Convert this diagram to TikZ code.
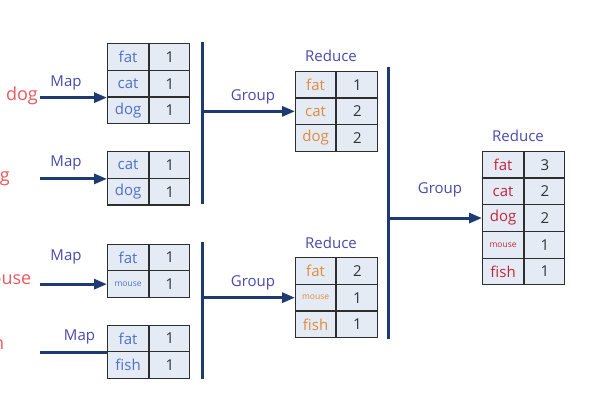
\documentclass[tikz,border=0pt]{standalone}
\usepackage{fontspec}
\setmainfont{Open Sans}
\usetikzlibrary{arrows.meta}
\definecolor{boxfill}{HTML}{E4EBF5}
\definecolor{boxline}{HTML}{2E2E2E}
\definecolor{mapkey}{HTML}{4F70C8}
\definecolor{redkey}{HTML}{E08A3E}
\definecolor{finkey}{HTML}{C0283C}
\definecolor{numtxt}{HTML}{333333}
\definecolor{lbl}{HTML}{4A4AAE}
\definecolor{navy}{HTML}{1F3A72}
\definecolor{intxt}{HTML}{E85A5C}
\tikzset{
  cellbase/.style={draw=boxline, line width=1.2pt, fill=boxfill, anchor=north west,
    inner sep=0pt, minimum height=26.7pt},
  keyc/.style={cellbase, minimum width=41pt, font=\fontsize{15}{15}\selectfont},
  keyr/.style={cellbase, minimum width=40pt, font=\fontsize{15}{15}\selectfont},
  valc/.style={cellbase, minimum width=40pt, text=numtxt, font=\fontsize{15}{15}\selectfont},
  valr/.style={cellbase, minimum width=41pt, text=numtxt, font=\fontsize{15}{15}\selectfont},
  small/.style={font=\fontsize{8.5}{9}\selectfont},
  lab/.style={text=lbl, font=\fontsize{15}{15}\selectfont, inner sep=0pt},
  intext/.style={text=intxt, font=\fontsize{18}{18}\selectfont, anchor=base east, inner sep=0pt},
  flow/.style={draw=navy, line width=3pt, -{Triangle[length=13pt,width=10pt]}},
  flowplain/.style={draw=navy, line width=3pt},
  bar/.style={draw=navy, line width=3pt}
}
\newcommand\mrow[6]{%
  \node[keyc,#6] (#1k) at (#2,#3) {#4};
  \node[valc] (#1v) at (#1k.north east) {#5};}
\newcommand\rrow[6]{%
  \node[keyr,#6] (#1k) at (#2,#3) {#4};
  \node[valr] (#1v) at (#1k.north east) {#5};}
\begin{document}
\begin{tikzpicture}[x=1pt,y=-1pt]
\useasboundingbox[fill=white] (0,0) rectangle (600,400);
\clip (0,0) rectangle (600,400);
% input texts (cropped at left edge)
\node[intext] (in1) at (38,100) {fat cat\hspace{1.5pt} dog};
\node[intext] (in2) at (10,181) {cat dog};
\node[intext] (in3) at (31.5,284) {fat mouse};
\node[intext] (in4) at (4.5,349) {fat fish};
% map tables
\mrow{ma}{107}{43}{fat}{1}{text=mapkey}
\mrow{mb}{107}{69.7}{cat}{1}{text=mapkey}
\mrow{mc}{107}{96.4}{dog}{1}{text=mapkey}
\mrow{na}{107}{151}{cat}{1}{text=mapkey}
\mrow{nb}{107}{177.7}{dog}{1}{text=mapkey}
\mrow{oa}{107}{243.5}{fat}{1}{text=mapkey}
\mrow{ob}{107}{270.2}{mouse}{1}{text=mapkey,small}
\mrow{pa}{107}{324.5}{fat}{1}{text=mapkey}
\mrow{pb}{107}{351.2}{fish}{1}{text=mapkey}
% map arrows
\coordinate (xl) at (40,0);
\coordinate (s1) at (xl |- mbk.south west);
\coordinate (s2) at (xl |- nak.south west);
\coordinate (s3) at (xl |- obk.west);
\coordinate (s4) at (xl |- pak.south west);
\draw[flow] (s1) -- (mbk.south west);
\draw[flow] (s2) -- (nak.south west);
\draw[flow] (s3) -- (obk.west);
\draw[flowplain] (s4) -- (pak.south west);
\node[lab] (m1) at (66,83) {Map};
\node[lab] (m2) at (66,163) {Map};
\node[lab] (m3) at (66,257) {Map};
\node[lab] (m4) at (79.5,337) {Map};
% group bars 1
\coordinate (b1t) at (202,42);
\coordinate (b1b) at (202,204);
\coordinate (b2t) at (202,242);
\coordinate (b2b) at (202,379);
\draw[bar] (b1t) -- (b1b);
\draw[bar] (b2t) -- (b2b);
% reduce tables
\rrow{ra}{295}{70.7}{fat}{1}{text=redkey}
\rrow{rb}{295}{97.4}{cat}{2}{text=redkey}
\rrow{rc}{295}{124.1}{dog}{2}{text=redkey}
\rrow{sa}{295}{257}{fat}{2}{text=redkey}
\rrow{sb}{295}{283.7}{mouse}{1}{text=redkey,small}
\rrow{sc}{295}{310.4}{fish}{1}{text=redkey}
\coordinate (g1) at (b1t |- rbk.west);
\coordinate (g2) at (b1t |- sbk.west);
\draw[flow] (g1) -- (rbk.west);
\draw[flow] (g2) -- (sbk.west);
\node[lab] (gl1) at (253,97) {Group};
\node[lab] (gl2) at (253,283) {Group};
\node[lab] (rl1) at (331,56) {Reduce};
\node[lab] (rl2) at (331,243) {Reduce};
% bar 2
\coordinate (b3t) at (388,67);
\coordinate (b3b) at (388,339);
\draw[bar] (b3t) -- (b3b);
% final table
\mrow{fa}{482}{150.7}{fat}{3}{text=finkey}
\mrow{fb}{482}{177.4}{cat}{2}{text=finkey}
\mrow{fc}{482}{204.1}{dog}{2}{text=finkey}
\mrow{fd}{482}{230.8}{mouse}{1}{text=finkey,small}
\mrow{fe}{482}{257.5}{fish}{1}{text=finkey}
\coordinate (g3) at (b3t |- fck.west);
\draw[flow] (g3) -- (fck.west);
\node[lab] (gl3) at (440,190) {Group};
\node[lab] (rl3) at (518,136) {Reduce};
\end{tikzpicture}
\end{document}
